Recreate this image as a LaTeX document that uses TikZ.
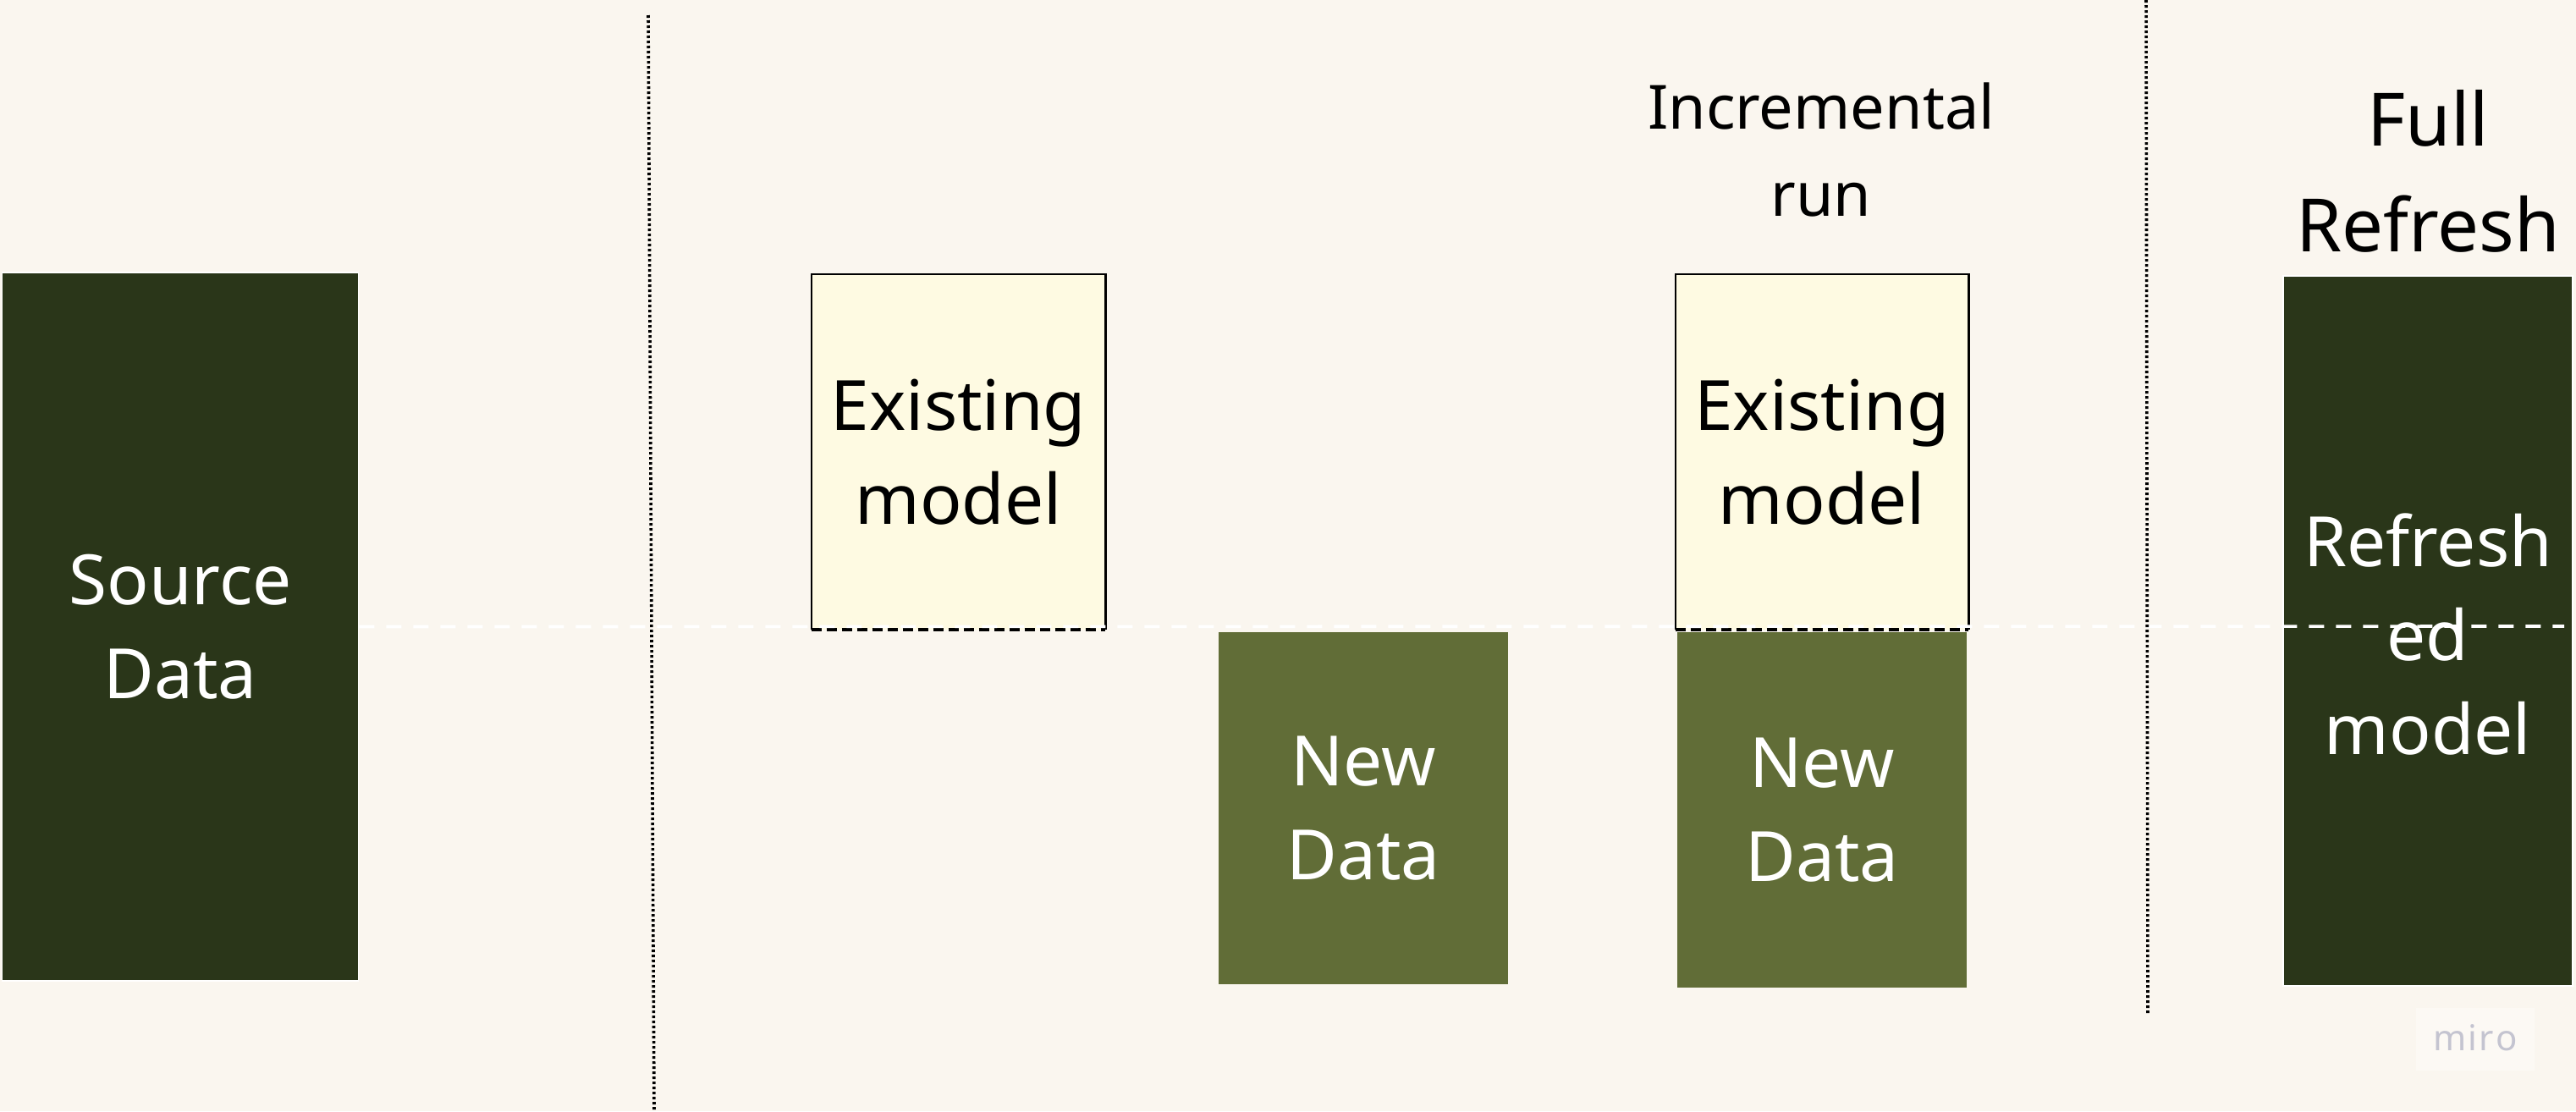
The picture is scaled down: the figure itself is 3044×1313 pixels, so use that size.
\documentclass[tikz,border=0pt]{standalone}
\usepackage{fontspec}
\setmainfont{Noto Sans}
\definecolor{bg}{RGB}{250,246,239}
\definecolor{darkgreen}{RGB}{42,54,25}
\definecolor{olive}{RGB}{97,109,55}
\definecolor{cream}{RGB}{254,250,226}
\definecolor{mirogray}{RGB}{196,196,208}
\definecolor{miropad}{RGB}{252,249,244}
\begin{document}
\begin{tikzpicture}[x=0.5pt,y=-0.5pt,
  boxtext/.style={font=\fontsize{41}{55.5}\selectfont, align=center, inner sep=0pt},
  darkbox/.style={boxtext, fill=darkgreen, draw=white, line width=0.8pt, text=white},
  newbox/.style={boxtext, fill=olive, text=white},
  existbox/.style={boxtext, fill=cream, text=black},
  existborder/.style={line width=1.1pt, black},
  existbottom/.style={line width=2pt, black, dash pattern=on 6pt off 3pt},
  whitedash/.style={line width=1.8pt, white, dash pattern=on 9pt off 7pt},
  dotline/.style={line width=1.8pt, black, dash pattern=on 1.5pt off 1.5pt},
  title/.style={align=center, inner sep=0pt, text=black}]
\fill[bg] (0,0) rectangle (3044,1313);
\useasboundingbox (0,0) rectangle (3044,1313);

% boxes
\node[darkbox, minimum width=210.5pt, minimum height=418.5pt] (src) at (213,740.5) {Source\\Data};
\node[existbox, minimum width=173.5pt, minimum height=210pt] (e1) at (1132.5,534) {Existing\\model};
\node[newbox, minimum width=171pt, minimum height=208pt] (n1) at (1611,955) {New\\Data};
\node[existbox, minimum width=173pt, minimum height=210pt] (e2) at (2153,534) {Existing\\model};
\node[newbox, minimum width=171pt, minimum height=210pt] (n2) at (2153,957) {New\\Data};
\node[darkbox, minimum width=171pt, minimum height=419.5pt] (rf) at (2869,745.5) {};
\node[boxtext, text=white] (rftext) at (2869,750) {Refresh\\ed\\model};

% borders of existing model boxes
\foreach \b in {e1,e2}{
  \draw[existborder] (\b.south west) -- (\b.north west) -- (\b.north east) -- (\b.south east);
  \draw[existbottom] (\b.south west) -- (\b.south east);
}

% titles
\node[title, font=\fontsize{36}{51.5}\selectfont] (inc) at (2152,177) {Incremental\\run};
\node[title, font=\fontsize{43.5}{62.5}\selectfont] (full) at (2869,202) {Full\\Refresh};

% horizontal white dashed line
\coordinate (dashend) at (3030,740);
\draw[whitedash] (src.east) -- (dashend);

% vertical dotted separators
\coordinate (s1top) at (766,18);
\coordinate (s1bot) at (773,1313);
\coordinate (s2top) at (2536,0);
\coordinate (s2bot) at (2538,1198);
\draw[dotline] (s1top) -- (s1bot);
\draw[dotline] (s2top) -- (s2bot);

% watermark
\node[fill=miropad, minimum width=70pt, minimum height=37pt, inner sep=0pt] (miro) at (2925,1228) {};
\node[text=mirogray, font=\fontsize{21}{24}\selectfont\bfseries, inner sep=0pt] (mirotext) at (2925,1226) {m\kern1pt i\kern1pt r\kern1pt o};
\end{tikzpicture}
\end{document}
